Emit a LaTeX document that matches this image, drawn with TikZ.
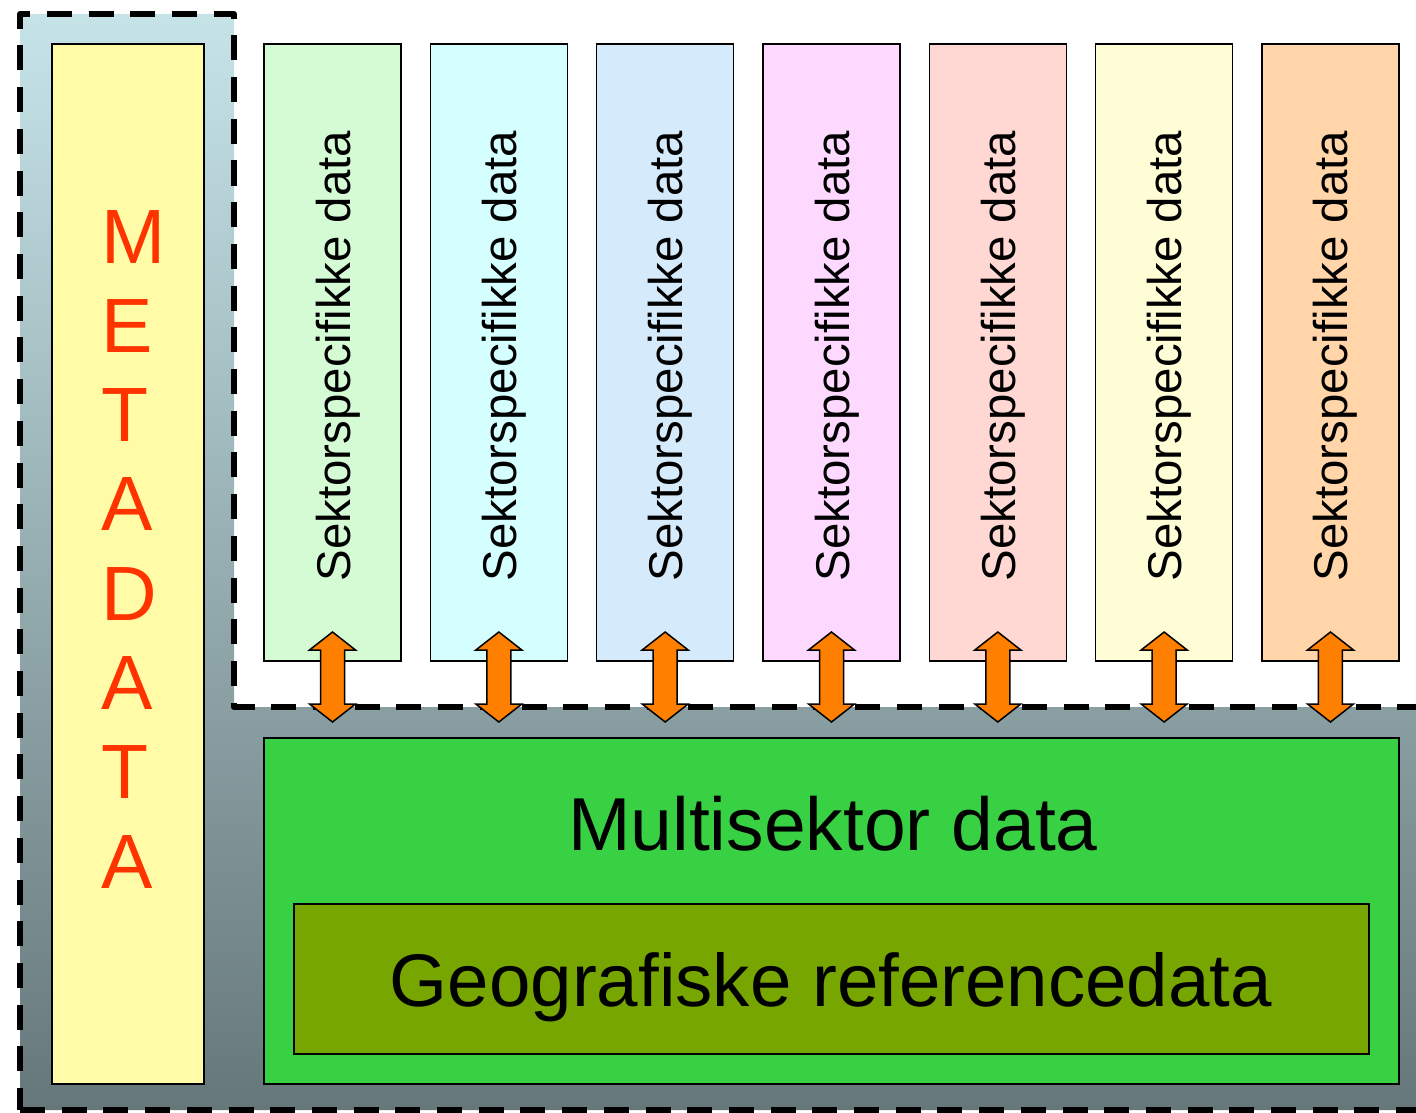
\documentclass[tikz,border=0pt]{standalone}
\usepackage{fontspec}
\setmainfont{Liberation Sans}[Ligatures=NoCommon]
\usetikzlibrary{calc}
\definecolor{regtop}{HTML}{C6E4E8}
\definecolor{regbot}{HTML}{66777A}
\definecolor{metafill}{HTML}{FFFBA7}
\definecolor{metatext}{HTML}{FF3300}
\definecolor{sA}{HTML}{D5FBD5}
\definecolor{sB}{HTML}{D5FEFF}
\definecolor{sC}{HTML}{D5EBFB}
\definecolor{sD}{HTML}{FDD8FF}
\definecolor{sE}{HTML}{FFD8D4}
\definecolor{sF}{HTML}{FFFDD5}
\definecolor{sG}{HTML}{FFD5A9}
\definecolor{multifill}{HTML}{38D144}
\definecolor{geofill}{HTML}{78A600}
\definecolor{arroworange}{HTML}{FF7F00}
\begin{document}
\begin{tikzpicture}[x=1pt,y=-1pt,
  box/.style={draw=black, line width=1.6pt, inner sep=0pt, outer sep=0pt, anchor=north west},
  sectorbox/.style={box, minimum width=137pt, minimum height=617pt},
  sectortext/.style={rotate=90, anchor=base, inner sep=0pt, font=\fontsize{47.4}{50}\selectfont},
  metaletter/.style={anchor=base west, inner sep=0pt, text=metatext, font=\fontsize{77}{80}\selectfont},
  bigtext/.style={anchor=base, inner sep=0pt, font=\fontsize{75}{80}\selectfont},
  dblarrow/.style={draw=black, line width=1.5pt, fill=arroworange, line join=miter},
  regionborder/.style={draw=black, line width=6pt, dash pattern=on 25pt off 16.7pt, line join=round}
]
\useasboundingbox (0,0) rectangle (1416,1113);
% shaded L-shaped region
\path[top color=regtop, bottom color=regbot]
  (20,14) -- (234,14) -- (234,707) -- (1430,707) -- (1430,1110) -- (20,1110) -- cycle;
\draw[regionborder, dash phase=3pt]
  (20,1110) -- (20,14) -- (234,14) -- (234,707) -- (1430,707);
\draw[regionborder] (20,1110) -- (1430,1110);

% metadata column
\node[box, fill=metafill, minimum width=152pt, minimum height=1040pt] (meta) at (52,44) {};
\foreach \l [count=\k from 0] in {M,E,T,A,D,A,T,A}
  \node[metaletter] (ml\k) at ($(meta.north west)+(49.5,219+89.3*\k)$) {\l};

% sector columns
\foreach \c [count=\i from 0] in {sA,sB,sC,sD,sE,sF,sG} {
  \node[sectorbox, fill=\c] (s\i) at (264+166.33*\i,44) {};
  \node[sectortext] (t\i) at ($(s\i.center)+(17.5,3.5)$) {Sektorspecifikke data};
}

% multisector block
\node[box, fill=multifill, minimum width=1135pt, minimum height=346pt] (multi) at (264,738) {};
\node[bigtext] (multitext) at ($(multi.north)+(1.5,112)$) {Multisektor data};
\node[box, fill=geofill, minimum width=1075pt, minimum height=150pt] (geo) at (294,904) {};
\node[bigtext, font=\fontsize{74.5}{80}\selectfont] (geotext) at ($(geo.north)+(-0.5,102)$) {Geografiske referencedata};

% double arrows between each sector column and the multisector block
\foreach \i in {0,...,6} {
  \coordinate (top\i) at ($(s\i.south)+(0,-29)$);
  \coordinate (bot\i) at ($(s\i.south |- multi.north)+(0,-16)$);
  \draw[dblarrow] (top\i) -- ++(23,18) -- ++(-11,0) -- ($(bot\i)+(12,-18)$) -- ++(11,0)
    -- (bot\i) -- ++(-23,-18) -- ++(11,0) -- ($(top\i)+(-12,18)$) -- ++(-11,0) -- cycle;
}
\end{tikzpicture}
\end{document}
